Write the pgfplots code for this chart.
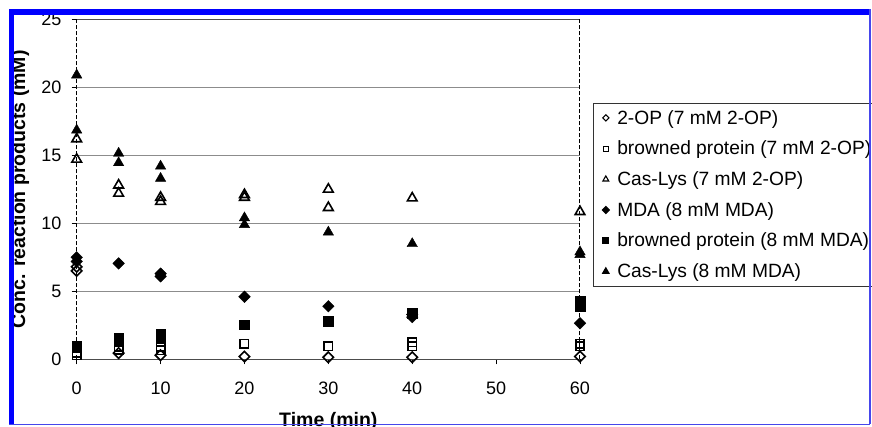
\documentclass[border=0pt]{standalone}
\usepackage{fontspec}
\setmainfont{Liberation Sans}
\usepackage{pgfplots}
\pgfplotsset{compat=1.18}

\definecolor{framebl}{RGB}{0,0,255}
\definecolor{framelt}{RGB}{70,70,235}

\begin{document}
\begin{tikzpicture}
\useasboundingbox (-76.7pt,-66.7pt) rectangle (795.3pt,359.3pt);
\clip (-76.7pt,-66.7pt) rectangle (795.3pt,359.3pt);
\begin{axis}[
  scale only axis,
  width=503.3pt, height=340pt,
  xmin=0, xmax=60, ymin=0, ymax=25,
  xtick={0,10,...,60}, ytick={0,5,...,25},
  xtick pos=bottom, ytick pos=left,
  tick align=outside, major tick length=5pt,
  tick style={black, line width=0.8pt},
  separate axis lines,
  every outer x axis line/.append style={draw=black!70, line width=1.1pt},
  every outer y axis line/.append style={draw=black, line width=1pt, dash pattern=on 4pt off 2pt},
  ymajorgrids, grid style={black!45, line width=1pt},
  clip=false,
  /pgf/number format/assume math mode=true,
  ticklabel style={font=\fontsize{18}{20}\selectfont},
  yticklabel style={inner sep=0pt, xshift=-10pt},
  xticklabel style={inner sep=0pt, yshift=-17pt},
  xlabel={Time (min)},
  xlabel style={font=\bfseries\fontsize{19.5}{22}\selectfont, at={(axis description cs:0.5,-0.1991)}, anchor=base},
  ylabel={Conc. reaction products (mM)},
  ylabel style={font=\bfseries\fontsize{19.5}{22}\selectfont, at={(axis description cs:-0.1123,0.5)}, anchor=center, rotate=0},
  legend style={at={(1.0258,0.7544)}, anchor=north west, draw=black!80, line width=0.7pt,
    font=\fontsize{19.2}{22}\selectfont, inner xsep=9pt, inner ysep=5pt, column sep=6pt, row sep=11.3pt},
  legend cell align=left,
  legend image code/.code={\draw[#1, line width=1.1pt, every mark/.append style={scale=0.6}] plot coordinates {(0pt,0pt)};},
]
% 2-OP (7 mM 2-OP)
\addplot[only marks, mark=square, mark size=3.7pt, every mark/.append style={rotate=45}, draw=black, line width=1.6pt]
  coordinates {(0,6.8) (0,6.5) (5,0.45) (10,0.3) (20,0.2) (30,0.15) (40,0.15) (60,0.2)};
\addlegendentry{2-OP (7 mM 2-OP)}
% browned protein (7 mM 2-OP)
\addplot[only marks, mark=square, mark size=4.2pt, draw=black, line width=1.6pt]
  coordinates {(0,0.5) (0,0.3) (5,0.9) (5,0.7) (10,0.9) (10,0.65) (20,1.15) (30,0.95) (40,1.25) (40,0.95) (60,1.15) (60,0.95)};
\addlegendentry{browned protein (7 mM 2-OP)}
% Cas-Lys (7 mM 2-OP)
\addplot[only marks, mark=triangle, mark size=5.6pt, draw=black, line width=1.6pt]
  coordinates {(0,16.2) (0,14.7) (5,12.8) (5,12.2) (10,11.9) (10,11.6) (20,12.1) (20,11.9) (30,12.5) (30,11.15) (40,11.85) (60,10.85)};
\addlegendentry{Cas-Lys (7 mM 2-OP)}
% MDA (8 mM MDA)
\addplot[only marks, mark=square*, mark size=4.1pt, every mark/.append style={rotate=45}, draw=black, fill=black]
  coordinates {(0,7.5) (0,7.2) (5,7.05) (10,6.3) (10,6.1) (20,4.6) (30,3.9) (40,3.3) (40,3.1) (60,2.65)};
\addlegendentry{MDA (8 mM MDA)}
% browned protein (8 mM MDA)
\addplot[only marks, mark=square*, mark size=4.8pt, draw=black, fill=black]
  coordinates {(0,1.0) (0,0.9) (5,1.6) (5,1.3) (10,1.85) (10,1.6) (20,2.55) (30,2.8) (40,3.4) (60,4.3) (60,3.9)};
\addlegendentry{browned protein (8 mM MDA)}
% Cas-Lys (8 mM MDA)
\addplot[only marks, mark=triangle*, mark size=6pt, draw=black, fill=black]
  coordinates {(0,20.9) (0,16.85) (5,15.15) (5,14.45) (10,14.2) (10,13.3) (20,10.4) (20,9.9) (30,9.35) (40,8.5) (60,7.9) (60,7.7)};
\addlegendentry{Cas-Lys (8 mM MDA)}
\end{axis}
% scanned frame
\fill[framebl] (-67.2pt,344.3pt) rectangle (794.3pt,350.3pt);
\fill[framebl] (-67.2pt,-65.5pt) rectangle (-62.2pt,350.3pt);
\draw[framelt, line width=1.5pt] (793.3pt,-65pt) -- (793.3pt,350pt);
\draw[framelt, line width=1.5pt] (-67.2pt,-65pt) -- (793.3pt,-65pt);
\end{tikzpicture}
\end{document}
